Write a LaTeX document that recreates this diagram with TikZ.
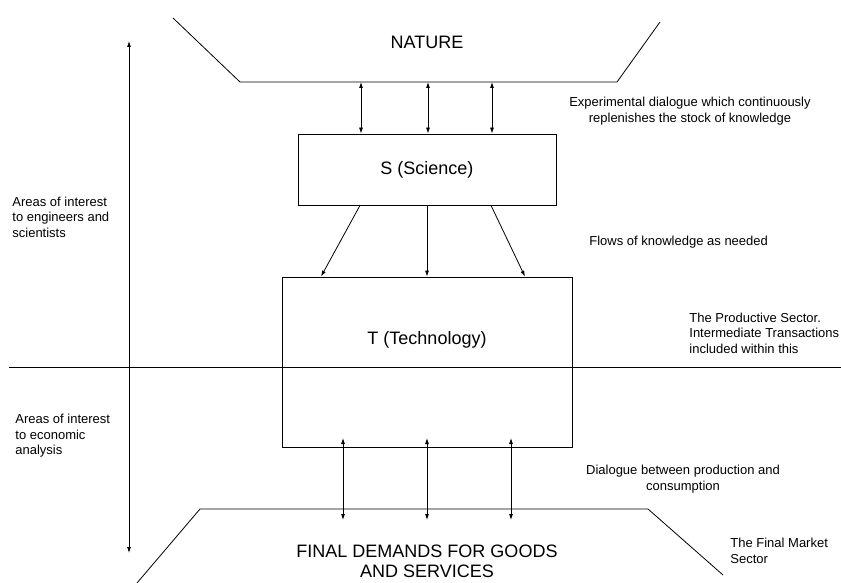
\documentclass[tikz,border=0pt]{standalone}
\usepackage{fontspec}
\setmainfont{Liberation Sans}
\usetikzlibrary{arrows.meta}
\begin{document}
\begin{tikzpicture}[
        x=1pt, y=-1pt,
        line width=0.8pt,
        box/.style={draw, inner sep=0pt, font=\fontsize{18}{20}\selectfont},
        big/.style={inner sep=0pt, align=center, font=\fontsize{18}{20}\selectfont},
        note/.style={inner sep=0pt, font=\fontsize{13}{15.5}\selectfont},
        >={Latex[length=6pt,width=4pt]}
    ]
        \useasboundingbox (0,0) rectangle (841,583);

        % Nature at the top
        \node[big] (nature) at (427,42) {NATURE};
        \coordinate (n1) at (173,18);
        \coordinate (n2) at (240,82);
        \coordinate (n3) at (617,82);
        \coordinate (n4) at (660,22);
        \draw (n1) -- (n2) -- (n3) -- (n4);

        % Science and technology
        \node[box, minimum width=258pt, minimum height=71pt] (S) at (427,169.5) {S (Science)};
        \node[box, minimum width=290pt, minimum height=170pt] (T) at (427,362) {};
        \node[big] (Tlbl) at (427,340) {T (Technology)};

        % Final demands at the bottom
        \node[big] (final) at (427,561) {FINAL DEMANDS FOR GOODS\\AND SERVICES};
        \coordinate (m1) at (137,583);
        \coordinate (m2) at (200,509);
        \coordinate (m3) at (648,509);
        \coordinate (m4) at (723,575);
        \draw (m1) -- (m2) -- (m3) -- (m4);

        % Dialogue with nature
        \foreach \x [count=\i] in {361,428,492} {
            \coordinate (a\i) at (\x,82);
            \draw[<->] (a\i) -- (S.north -| a\i);
        }

        % Flows of knowledge
        \foreach \a/\b [count=\i] in {360/321,427/427,491/525} {
            \coordinate (f\i) at (\a,205);
            \coordinate (g\i) at (\b,277);
            \draw[->] (S.south -| f\i) -- (T.north -| g\i);
        }

        % Dialogue with consumption
        \foreach \x [count=\i] in {343,427,511} {
            \coordinate (d\i) at (\x,438);
            \coordinate (e\i) at (\x,520);
            \draw[<->] (d\i) -- (e\i);
        }

        % Dividing line and scale of interest
        \coordinate (hl) at (9,367);
        \coordinate (hr) at (841,367);
        \draw (hl) -- (hr);
        \coordinate (atop) at (129,41);
        \coordinate (abot) at (129,553);
        \draw[<->] (atop) -- (abot);

        % Notes
        \node[note, align=left, anchor=west] (eng) at (12,217) {Areas of interest\\to engineers and\\scientists};
        \node[note, align=left, anchor=west] (econ) at (15,436) {Areas of interest\\to economic\\analysis};
        \node[note, align=center] (exp) at (690,111) {Experimental dialogue which continuously\\replenishes the stock of knowledge};
        \node[note, anchor=west] (flows) at (589,242) {Flows of knowledge as needed};
        \node[note, align=left, anchor=west] (prod) at (689,333) {The Productive Sector.\\Intermediate Transactions\\included within this};
        \node[note, align=center] (dial) at (683,479) {Dialogue between production and\\consumption};
        \node[note, align=left, anchor=west] (market) at (730,551) {The Final Market\\Sector};
\end{tikzpicture}
\end{document}
